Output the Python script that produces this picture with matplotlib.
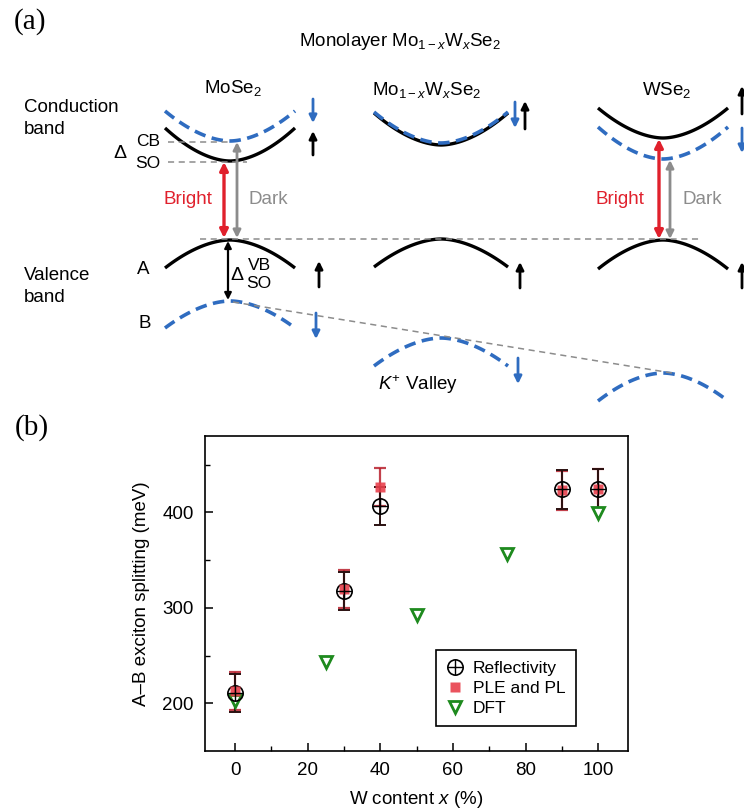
import numpy as np
import matplotlib
matplotlib.use("Agg")
import matplotlib.pyplot as plt
from matplotlib.lines import Line2D

plt.rcParams['font.family'] = ['Liberation Sans', 'DejaVu Sans']
plt.rcParams['mathtext.fontset'] = 'custom'
plt.rcParams['mathtext.rm'] = 'Liberation Sans'
plt.rcParams['mathtext.it'] = 'Liberation Sans:italic'
plt.rcParams['mathtext.bf'] = 'Liberation Sans:bold'

# ---------------- data: panel (b) ----------------
refl_x = [0, 30, 40, 90, 100]
refl_y = [211, 318, 407, 424, 425]
refl_err = [20, 20, 20, 20, 20]

ple_x = [0, 30, 40, 90, 100]
ple_y = [213, 320, 427, 423, 425]
ple_err = [20, 20, 20, 20, 20]

dft_x = [0, 25, 50, 75, 100]
dft_y = [202, 243, 293, 356, 399]

xticks = [0, 20, 40, 60, 80, 100]
yticks = [200, 300, 400]

# ---------------- data: panel (a) schematic (energy levels, screen units, down = lower energy) ----------------
col_names = ['MoSe$_2$', 'Mo$_{1-x}$W$_x$Se$_2$', 'WSe$_2$']
col_k = [230, 441, 663]          # valley centre
col_hw = [65, 67, 65]            # half width of drawn band
cb_up_min = [161, 145, 138]      # spin-up conduction band (black)
cb_up_edge = [128, 113, 108]
cb_dn_min = [141, 143, 159]      # spin-down conduction band (blue)
cb_dn_edge = [111, 112, 127]
vb_a_top = [240, 239, 240]       # A valence band (black)
vb_a_edge = [268, 267, 269]
vb_b_top = [301, 338, 373]       # B valence band (blue)
vb_b_edge = [328, 366, 401]

BLUE = '#2f6cc0'
RED = '#e0202c'
GRAY = '#8c8c8c'

fig = plt.figure(figsize=(7.44, 8.10), dpi=100)

# ---------- panel (a) ----------
axa = fig.add_axes([0, 0.5, 1, 0.5])
axa.set_xlim(0, 744)
axa.set_ylim(405, 0)
axa.axis('off')

def band(ax, c, hw, ymin, yedge, **kw):
    x = np.linspace(c - hw, c + hw, 120)
    y = ymin + (yedge - ymin) * np.abs((x - c) / hw) ** 1.8
    ax.plot(x, y, solid_capstyle='butt', **kw)

dash = dict(color=BLUE, lw=2.6, ls=(0, (3.2, 1.8)))
solid = dict(color='black', lw=2.4)
for i in range(3):
    c, hw = col_k[i], col_hw[i]
    if i == 1:
        band(axa, c, hw, cb_up_min[i], cb_up_edge[i], **solid)
        band(axa, c, hw, cb_dn_min[i], cb_dn_edge[i], **dash)
    else:
        band(axa, c, hw, cb_dn_min[i], cb_dn_edge[i], **dash)
        band(axa, c, hw, cb_up_min[i], cb_up_edge[i], **solid)
    band(axa, c, hw, vb_a_top[i], vb_a_edge[i], **solid)
    band(axa, c, hw, vb_b_top[i], vb_b_edge[i], **dash)

def arrow(ax, x, y0, y1, color, style='-|>', lw=2.0, ms=11):
    ax.annotate('', xy=(x, y1), xytext=(x, y0),
                arrowprops=dict(arrowstyle=style, color=color, lw=lw,
                                shrinkA=0, shrinkB=0, mutation_scale=ms))

# spin arrows
arrow(axa, 313, 99, 123, BLUE)
arrow(axa, 313, 155, 131, 'black')
arrow(axa, 319, 287, 261, 'black')
arrow(axa, 316, 313, 339, BLUE)
arrow(axa, 515, 102, 128, BLUE)
arrow(axa, 525, 129, 101, 'black')
arrow(axa, 520, 288, 262, 'black')
arrow(axa, 518, 358, 384, BLUE)
arrow(axa, 742, 114, 86, 'black')
arrow(axa, 742, 128, 153, BLUE)
arrow(axa, 742, 288, 262, 'black')
arrow(axa, 742, 384, 410, BLUE)

# transition arrows
arrow(axa, 224, 162, 238, RED, style='<|-|>', lw=2.4, ms=12)
arrow(axa, 237, 142, 238, GRAY, style='<|-|>', lw=2.0, ms=11)
arrow(axa, 228, 241, 300, 'black', style='<|-|>', lw=1.6, ms=10)
arrow(axa, 659, 139, 239, RED, style='<|-|>', lw=2.4, ms=12)
arrow(axa, 670, 160, 239, GRAY, style='<|-|>', lw=2.0, ms=11)

# guide lines
gd = dict(color=GRAY, lw=1.1, ls=(0, (4, 3)))
axa.plot([168, 230], [142, 142], **gd)
axa.plot([168, 247], [162, 162], **gd)
axa.plot([200, 700], [239, 239], **gd)
axa.plot([233, 672], [302, 373], **gd)

fs = 13.5
axa.text(30, 22, '(a)', family='Liberation Serif', fontsize=21, ha='center', va='center')
axa.text(400, 42, 'Monolayer Mo$_{1-x}$W$_x$Se$_2$', fontsize=fs, ha='center', va='center')
axa.text(233, 88, col_names[0], fontsize=fs, ha='center', va='center')
axa.text(427, 90, col_names[1], fontsize=fs, ha='center', va='center')
axa.text(667, 90, col_names[2], fontsize=fs, ha='center', va='center')
axa.text(24, 107, 'Conduction', fontsize=fs, ha='left', va='center')
axa.text(24, 129, 'band', fontsize=fs, ha='left', va='center')
axa.text(24, 275, 'Valence', fontsize=fs, ha='left', va='center')
axa.text(24, 297, 'band', fontsize=fs, ha='left', va='center')
axa.text(143, 270, 'A', fontsize=fs, ha='center', va='center')
axa.text(145, 323, 'B', fontsize=fs, ha='center', va='center')
axa.text(188, 199, 'Bright', fontsize=fs, color=RED, ha='center', va='center')
axa.text(268, 200, 'Dark', fontsize=fs, color=GRAY, ha='center', va='center')
axa.text(620, 199, 'Bright', fontsize=fs, color=RED, ha='center', va='center')
axa.text(702, 200, 'Dark', fontsize=fs, color=GRAY, ha='center', va='center')
axa.text(120, 153, 'Δ', fontsize=14, ha='center', va='center')
axa.text(148, 142, 'CB', fontsize=12.5, ha='center', va='center')
axa.text(148, 163, 'SO', fontsize=12.5, ha='center', va='center')
axa.text(237, 276, 'Δ', fontsize=14, ha='center', va='center')
axa.text(259, 265, 'VB', fontsize=12.5, ha='center', va='center')
axa.text(259, 284, 'SO', fontsize=12.5, ha='center', va='center')
axa.text(418, 385, '$K^{+}$ Valley', fontsize=fs, ha='center', va='center')

# ---------- panel (b) ----------
ax = fig.add_axes([205/744, 1-751/810, (628-205)/744, (751-436)/810])
ax.set_xlim(-8.3, 108.2)
ax.set_ylim(150, 480)

ax.errorbar(ple_x, ple_y, yerr=ple_err, fmt='none', ecolor='#b8202c', elinewidth=1.6,
            capsize=4, capthick=1.6, zorder=2, alpha=0.85)
ax.errorbar(refl_x, refl_y, yerr=refl_err, fmt='none', ecolor='#2a1010', elinewidth=1.4,
            capsize=4, capthick=1.4, zorder=3)
ax.plot(dft_x, dft_y, ls='none', marker='v', ms=8, mfc='white', mec='#1e8a1e', mew=2.0,
        zorder=4)
ax.plot(refl_x, refl_y, ls='none', marker='o', ms=11, mfc='none', mec='black', mew=1.2, zorder=5)
ax.plot(ple_x, ple_y, ls='none', marker='s', ms=7.5, mfc='#e8404c', mec='none', alpha=0.9,
        zorder=6)
ax.plot(refl_x, refl_y, ls='none', marker='+', ms=11, mec='black', mew=1.0, zorder=7)

# legend proxies
h_refl = (Line2D([], [], ls='none', marker='o', ms=11, mfc='none', mec='black', mew=1.2),
          Line2D([], [], ls='none', marker='+', ms=11, mec='black', mew=1.0))
h_ple = Line2D([], [], ls='none', marker='s', ms=7.5, mfc='#e8404c', mec='none', alpha=0.9)
h_dft = Line2D([], [], ls='none', marker='v', ms=8, mfc='white', mec='#1e8a1e', mew=2.0)
leg = ax.legend([h_refl, h_ple, h_dft], ['Reflectivity', 'PLE and PL', 'DFT'],
                loc='lower right', bbox_to_anchor=(0.877, 0.079), fontsize=12.5,
                frameon=True, fancybox=False, edgecolor='black', framealpha=1,
                labelspacing=0.28, handletextpad=0.55, handlelength=1.0, borderpad=0.6,
                borderaxespad=0)
leg.get_frame().set_linewidth(1.2)

ax.set_xticks(xticks)
ax.set_yticks(yticks)
ax.set_xticks([10, 30, 50, 70, 90], minor=True)
ax.set_yticks([250, 350, 450], minor=True)
ax.tick_params(which='major', direction='in', length=6, width=1.1, labelsize=13.5, pad=8)
ax.tick_params(which='minor', direction='in', length=3.5, width=1.0)
for s in ax.spines.values():
    s.set_linewidth(1.2)
ax.set_xlabel('W content $x$ (%)', fontsize=13.5, labelpad=7)
ax.set_ylabel('A–B exciton splitting (meV)', fontsize=13.5, labelpad=9)

fig.text(32/744, 1-428/810, '(b)', family='Liberation Serif', fontsize=21, ha='center', va='center')

fig.savefig('out.png', dpi=100)
